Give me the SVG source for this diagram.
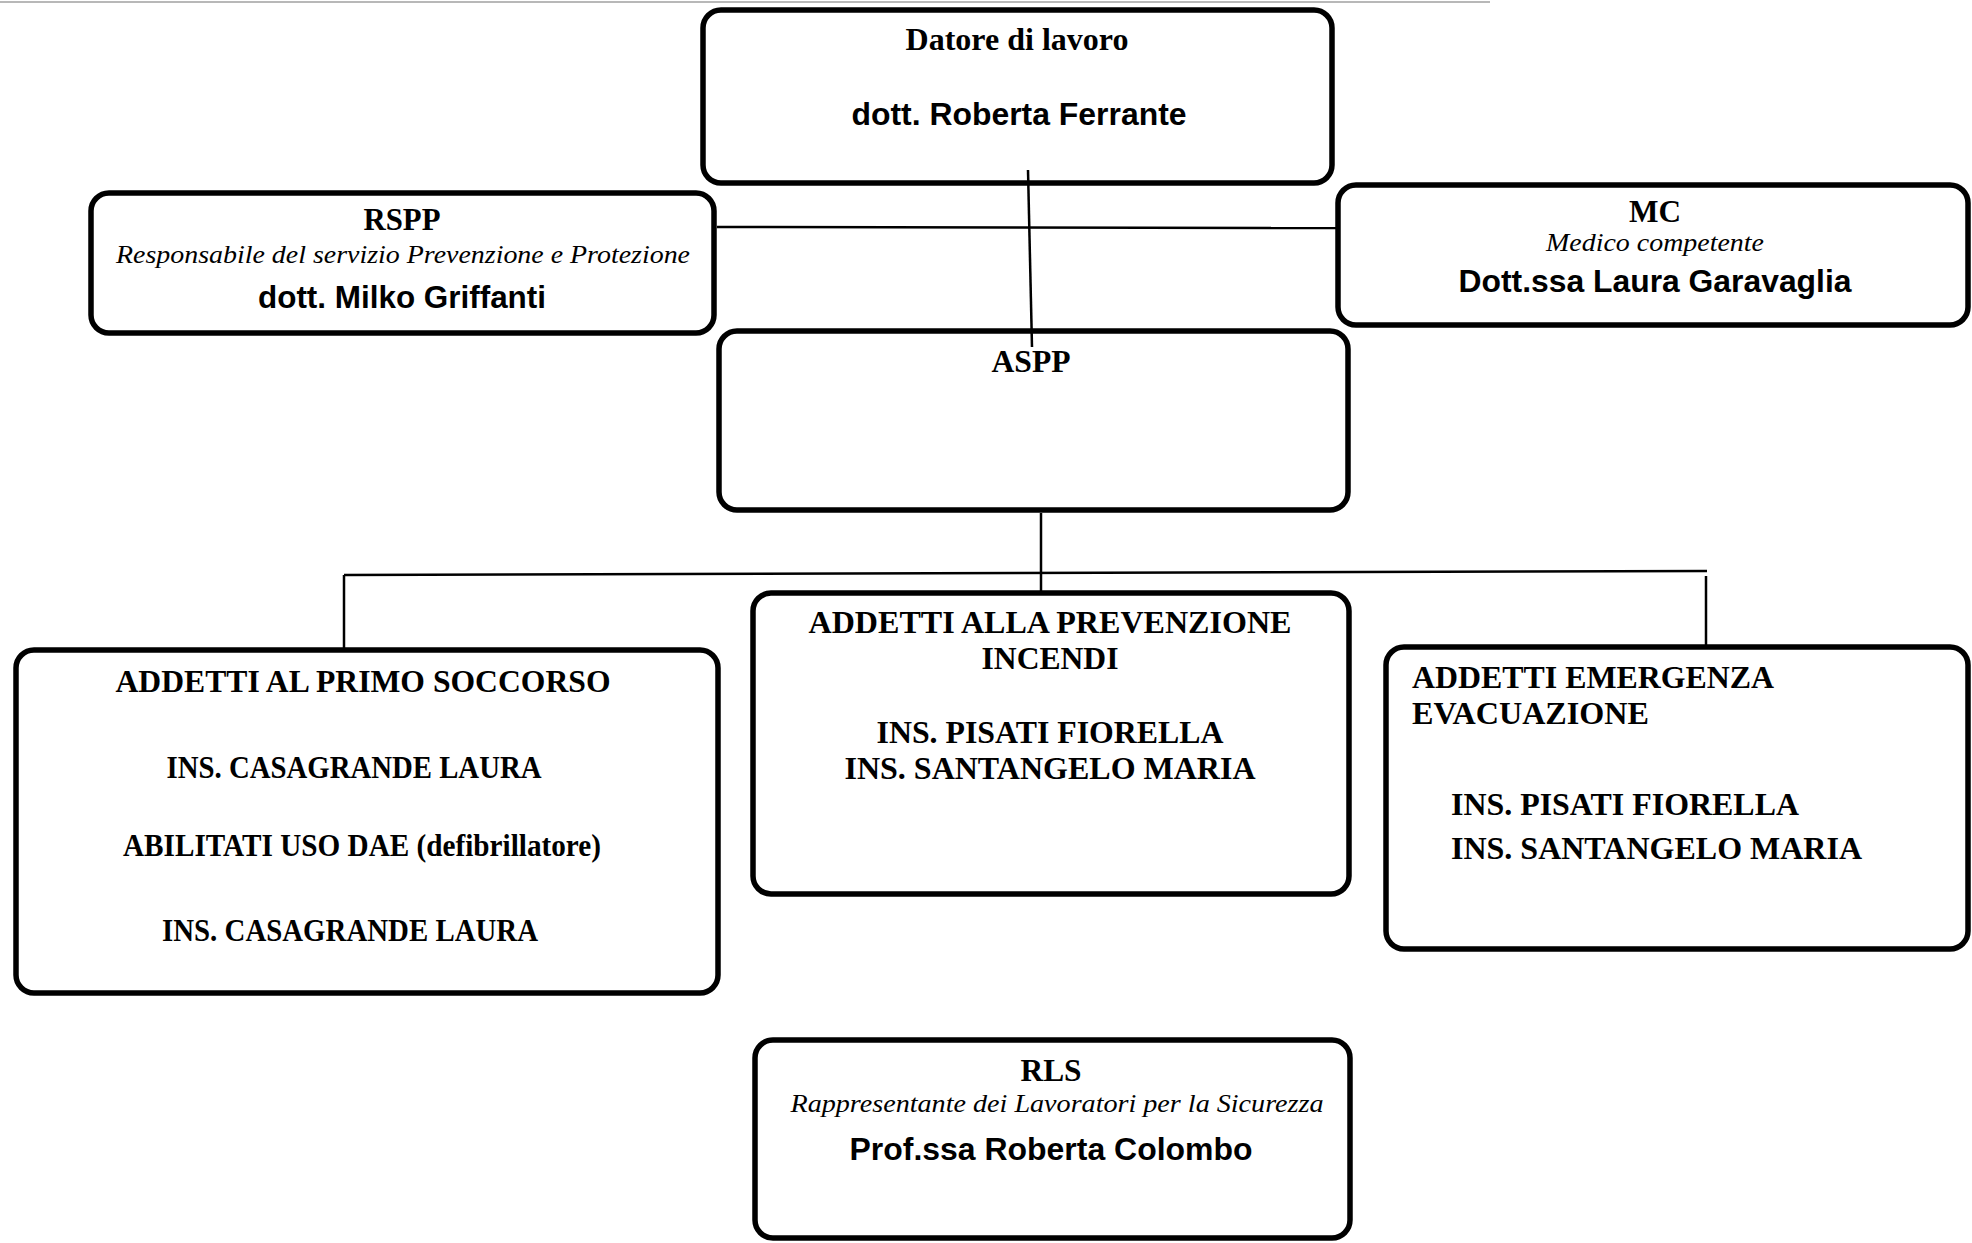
<svg xmlns="http://www.w3.org/2000/svg" width="1972" height="1243" viewBox="0 0 1972 1243">
<style>
.box{fill:#fff;stroke:#000;stroke-width:5.5}
.ln{stroke:#000;stroke-width:2.5;fill:none}
.sb{font-family:"Liberation Serif","Times New Roman",serif;font-weight:bold;font-size:31px;fill:#000}
.si{font-family:"Liberation Serif","Times New Roman",serif;font-style:italic;font-size:26px;fill:#000}
.ab{font-family:"Liberation Sans",Arial,sans-serif;font-weight:bold;font-size:31px;fill:#000}
.c{text-anchor:middle}
</style>
<rect width="1972" height="1243" fill="#fff"/>
<line x1="0" y1="2" x2="1490" y2="2" stroke="#b8b8b8" stroke-width="2"/>
<g id="datore">
<rect class="box" x="703" y="10" width="629" height="173" rx="18"/>
<text class="sb c" x="1017" y="50" font-size="28" textLength="223" lengthAdjust="spacingAndGlyphs">Datore di lavoro</text>
<text class="ab c" x="1019" y="125" textLength="335" lengthAdjust="spacingAndGlyphs">dott. Roberta Ferrante</text>
</g>
<g id="rspp">
<rect class="box" x="91" y="193" width="623" height="140" rx="18"/>
<text class="sb c" x="402" y="230" textLength="77" lengthAdjust="spacingAndGlyphs">RSPP</text>
<text class="si c" x="403" y="263" textLength="574" lengthAdjust="spacingAndGlyphs">Responsabile del servizio Prevenzione e Protezione</text>
<text class="ab c" x="402" y="308" textLength="288" lengthAdjust="spacingAndGlyphs">dott. Milko Griffanti</text>
</g>
<g id="mc">
<rect class="box" x="1338" y="185" width="630" height="140" rx="18"/>
<text class="sb c" x="1655" y="222" textLength="52" lengthAdjust="spacingAndGlyphs">MC</text>
<text class="si c" x="1655" y="251" textLength="218" lengthAdjust="spacingAndGlyphs">Medico competente</text>
<text class="ab c" x="1655" y="292" textLength="393" lengthAdjust="spacingAndGlyphs">Dott.ssa Laura Garavaglia</text>
</g>
<g id="aspp">
<rect class="box" x="719" y="331" width="629" height="179" rx="18"/>
<text class="sb c" x="1031" y="372" textLength="79" lengthAdjust="spacingAndGlyphs">ASPP</text>
</g>
<g id="primo-soccorso">
<rect class="box" x="16" y="650" width="702" height="343" rx="18"/>
<text class="sb c" x="363" y="692" textLength="495" lengthAdjust="spacingAndGlyphs">ADDETTI AL PRIMO SOCCORSO</text>
<text class="sb c" x="354" y="778" textLength="375" lengthAdjust="spacingAndGlyphs">INS. CASAGRANDE LAURA</text>
<text class="sb c" x="362" y="856" textLength="478" lengthAdjust="spacingAndGlyphs">ABILITATI USO DAE (defibrillatore)</text>
<text class="sb c" x="350" y="941" textLength="376" lengthAdjust="spacingAndGlyphs">INS. CASAGRANDE LAURA</text>
</g>
<g id="prevenzione-incendi">
<rect class="box" x="753" y="593" width="596" height="301" rx="18"/>
<text class="sb c" x="1050" y="633" textLength="483" lengthAdjust="spacingAndGlyphs">ADDETTI ALLA PREVENZIONE</text>
<text class="sb c" x="1050" y="669" textLength="137" lengthAdjust="spacingAndGlyphs">INCENDI</text>
<text class="sb c" x="1050" y="743" textLength="347" lengthAdjust="spacingAndGlyphs">INS. PISATI FIORELLA</text>
<text class="sb c" x="1050" y="779" textLength="411" lengthAdjust="spacingAndGlyphs">INS. SANTANGELO MARIA</text>
</g>
<g id="emergenza">
<rect class="box" x="1386" y="647" width="582" height="302" rx="18"/>
<text class="sb" x="1412" y="688" textLength="362" lengthAdjust="spacingAndGlyphs">ADDETTI EMERGENZA</text>
<text class="sb" x="1412" y="724" textLength="237" lengthAdjust="spacingAndGlyphs">EVACUAZIONE</text>
<text class="sb" x="1451" y="815" textLength="348" lengthAdjust="spacingAndGlyphs">INS. PISATI FIORELLA</text>
<text class="sb" x="1451" y="859" textLength="411" lengthAdjust="spacingAndGlyphs">INS. SANTANGELO MARIA</text>
</g>
<g id="rls">
<rect class="box" x="755" y="1040" width="595" height="198" rx="18"/>
<text class="sb c" x="1051" y="1081" textLength="61" lengthAdjust="spacingAndGlyphs">RLS</text>
<text class="si c" x="1057" y="1112" textLength="533" lengthAdjust="spacingAndGlyphs">Rappresentante dei Lavoratori per la Sicurezza</text>
<text class="ab c" x="1051" y="1160" textLength="403" lengthAdjust="spacingAndGlyphs">Prof.ssa Roberta Colombo</text>
</g>
<g id="connectors">
<line class="ln" x1="1028" y1="170" x2="1032" y2="347"/>
<line class="ln" x1="717" y1="227" x2="1336" y2="228"/>
<line class="ln" x1="1041" y1="513" x2="1041" y2="591"/>
<line class="ln" x1="344" y1="575" x2="1707" y2="571"/>
<line class="ln" x1="344" y1="575" x2="344" y2="648"/>
<line class="ln" x1="1706" y1="576" x2="1706" y2="645"/>
</g>
</svg>
